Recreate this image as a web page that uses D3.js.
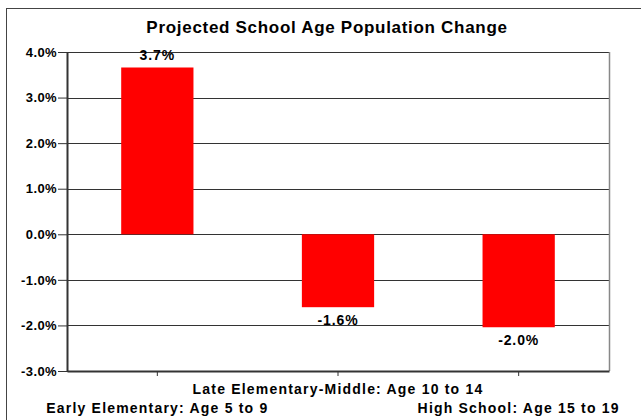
<!DOCTYPE html>
<html>
<head>
<meta charset="utf-8">
<script src="https://d3js.org/d3.v7.min.js"></script>
<style>
    body {margin: 0; background: white;}
    text {font-family: "Liberation Sans", Arial, sans-serif; font-weight: bold; fill: #000;}
</style>
</head>
<body>
<svg width="641" height="420"></svg>
<script>
    // chart values
    const categories = ["Early Elementary: Age 5 to 9", "Late Elementary-Middle: Age 10 to 14", "High School: Age 15 to 19"];
    const changes = [3.66, -1.6, -2.04];
    const valueLabels = ["3.7%", "-1.6%", "-2.0%"];
    const yTicks = [-3, -2, -1, 0, 1, 2, 3, 4];

    const svg = d3.select("svg");
    const margin = {top: 52, right: 32, bottom: 49, left: 67};
    const width = 641 - margin.left - margin.right;
    const height = 420 - margin.top - margin.bottom;

    // outer chart frame (runs off the right and bottom edge)
    svg.append("rect")
        .attr("x", 6.5).attr("y", 8.5)
        .attr("width", 700).attr("height", 500)
        .attr("fill", "white").attr("stroke", "#444").attr("stroke-width", 1);

    svg.append("text")
        .attr("x", 327).attr("y", 33)
        .attr("text-anchor", "middle")
        .style("font-size", "17px")
        .style("letter-spacing", "0.7px")
        .text("Projected School Age Population Change");

    const g = svg.append("g").attr("transform", `translate(${margin.left},${margin.top})`);

    const x = d3.scaleBand()
        .domain(categories)
        .range([0, width])
        .paddingInner(0.6)
        .paddingOuter(0.3);

    const y = d3.scaleLinear()
        .domain([-3, 4])
        .range([height, 0]);

    // gridlines
    g.append("g").selectAll("line")
        .data(yTicks)
        .enter().append("line")
        .attr("x1", 0).attr("x2", width)
        .attr("y1", d => Math.round(y(d)) + 0.5)
        .attr("y2", d => Math.round(y(d)) + 0.5)
        .attr("stroke", "#333");

    // right plot border
    g.append("line")
        .attr("x1", width + 0.5).attr("x2", width + 0.5)
        .attr("y1", 0).attr("y2", height)
        .attr("stroke", "#888").attr("stroke-width", 1.5);

    // bars
    g.selectAll("rect.bar")
        .data(changes)
        .enter().append("rect")
        .attr("class", "bar")
        .attr("x", (d, i) => x(categories[i]))
        .attr("width", x.bandwidth())
        .attr("y", d => y(Math.max(0, d)))
        .attr("height", d => Math.abs(y(d) - y(0)))
        .attr("fill", "#ff0000");

    // value labels
    g.selectAll("text.val")
        .data(changes)
        .enter().append("text")
        .attr("class", "val")
        .attr("x", (d, i) => x(categories[i]) + x.bandwidth() / 2)
        .attr("y", d => d >= 0 ? y(d) - 8 : y(d) + 18)
        .attr("text-anchor", "middle")
        .style("font-size", "14px")
        .style("letter-spacing", "0.9px")
        .text((d, i) => valueLabels[i]);

    // y axis
    const yAxis = d3.axisLeft(y)
        .tickValues(yTicks)
        .tickSize(9)
        .tickSizeOuter(0)
        .tickFormat(d => d3.format(".1f")(d).replace("\u2212", "-") + "%");
    const ya = g.append("g").call(yAxis);
    ya.selectAll("text")
        .attr("x", -10)
        .style("font-size", "13px")
        .style("letter-spacing", "0.4px")
        .style("font-family", "Liberation Sans, Arial, sans-serif");
    ya.select(".domain").attr("stroke", "#333").attr("stroke-width", 2);
    ya.selectAll(".tick line").attr("stroke", "#333");

    // x axis
    const xAxis = d3.axisBottom(x)
        .tickSize(5)
        .tickSizeOuter(0)
        .tickFormat("");
    const xa = g.append("g").attr("transform", `translate(0,${height})`).call(xAxis);
    xa.select(".domain").attr("stroke", "#333").attr("stroke-width", 2);
    xa.selectAll(".tick line").attr("stroke", "#333");

    // staggered category labels
    g.selectAll("text.cat")
        .data(categories)
        .enter().append("text")
        .attr("class", "cat")
        .attr("x", d => x(d) + x.bandwidth() / 2)
        .attr("y", (d, i) => height + (i % 2 === 1 ? 23 : 42))
        .attr("text-anchor", "middle")
        .style("font-size", "14px")
        .style("letter-spacing", "1.2px")
        .text(d => d);
</script>
</body>
</html>
